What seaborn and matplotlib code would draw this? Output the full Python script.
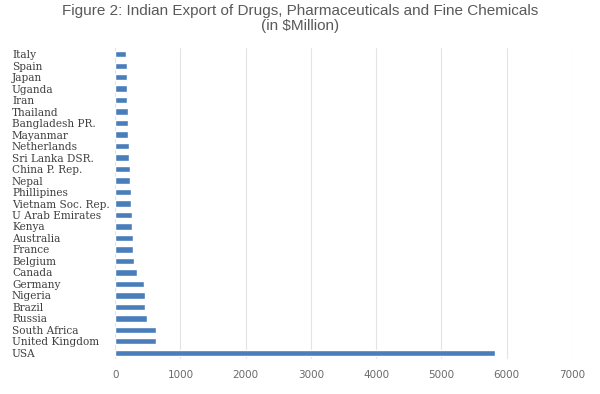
import matplotlib
matplotlib.use("Agg")
import matplotlib.pyplot as plt
import seaborn as sns
import pandas as pd

# Export values (in $Million), top to bottom as drawn
countries = ["Italy", "Spain", "Japan", "Uganda", "Iran", "Thailand",
             "Bangladesh PR.", "Mayanmar", "Netherlands", "Sri Lanka DSR.",
             "China P. Rep.", "Nepal", "Phillipines", "Vietnam Soc. Rep.",
             "U Arab Emirates", "Kenya", "Australia", "France", "Belgium",
             "Canada", "Germany", "Nigeria", "Brazil", "Russia",
             "South Africa", "United Kingdom", "USA"]
exports = [170, 175, 180, 180, 187, 192, 192, 200, 207, 218,
           233, 233, 242, 248, 264, 264, 279, 279, 284,
           330, 448, 452, 457, 494, 621, 632, 5820]

df = pd.DataFrame({"country": countries, "value": exports})

sns.set_style("white")
fig, ax = plt.subplots(figsize=(6, 3.94), dpi=100)
fig.subplots_adjust(left=0.192, right=0.953, top=0.877, bottom=0.09)

sns.barplot(data=df, x="value", y="country", color="#4a7ebb",
            width=0.55, saturation=1, ax=ax, zorder=3)

ax.set_xlim(0, 7000)
ax.set_xticks(range(0, 7001, 1000))
ax.xaxis.grid(True, color="#e3e3e3", linewidth=0.8, zorder=0)
ax.set_axisbelow(True)
for s in ax.spines.values():
    s.set_visible(False)
ax.tick_params(axis="x", length=0, labelsize=7.5, colors="#6a6a6a", pad=8)
ax.tick_params(axis="y", length=0, pad=2)
for lab in ax.get_yticklabels():
    lab.set_fontfamily("DejaVu Serif")
    lab.set_fontsize(7.6)
    lab.set_color("#404040")
    lab.set_horizontalalignment("left")
    lab.set_x(-0.22)
ax.set_xlabel("")
ax.set_ylabel("")

fig.suptitle("Figure 2: Indian Export of Drugs, Pharmaceuticals and Fine Chemicals\n(in $Million)",
             fontsize=11, color="#595959", family="Liberation Sans",
             y=0.99, linespacing=1.1)

fig.savefig("out.png", dpi=100)
